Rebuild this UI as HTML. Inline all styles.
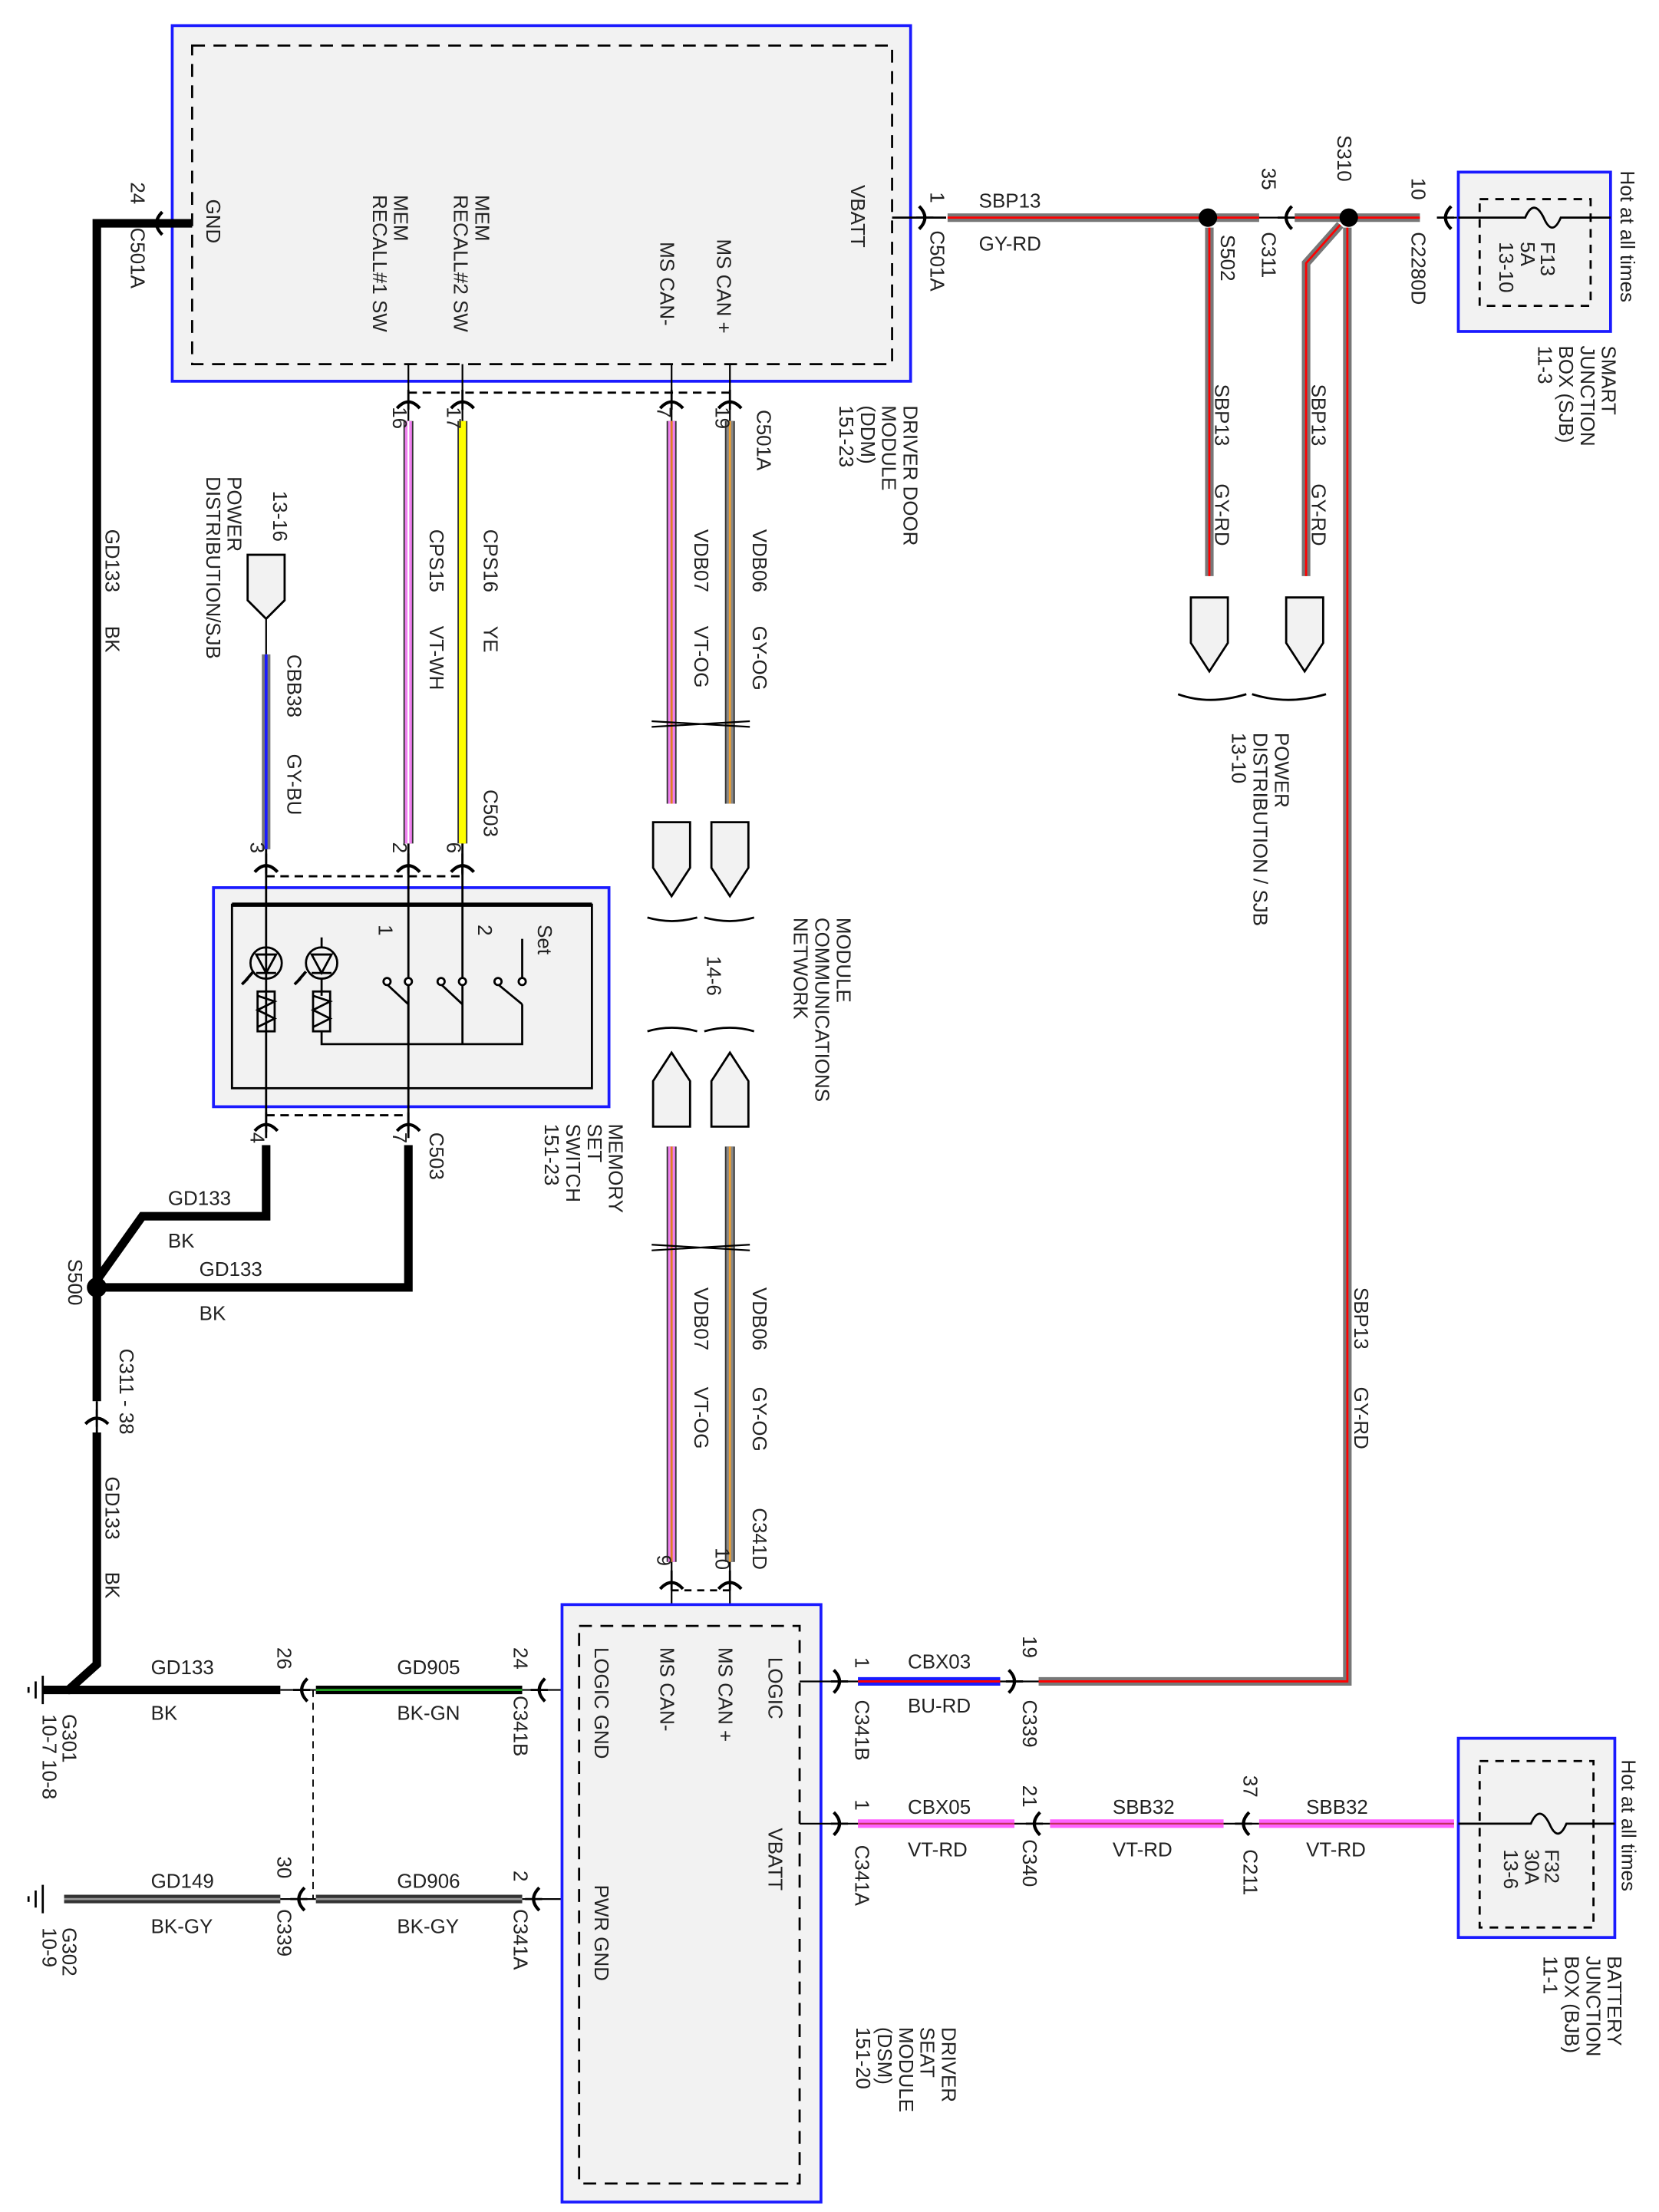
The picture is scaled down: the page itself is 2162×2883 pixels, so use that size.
<!DOCTYPE html>
<html><head><meta charset="utf-8"><style>
html,body{margin:0;padding:0;background:#fff}
svg{display:block}
text{font-family:"Liberation Sans",sans-serif;font-size:14px;fill:#222}
</style></head><body>
<svg width="2162" height="2883" viewBox="0 0 1166 1555" xmlns="http://www.w3.org/2000/svg">
<defs>
<g id="cl"><path d="M6,-8 Q-2,0 6,8" fill="none" stroke="#000" stroke-width="2.2"/><path d="M-4,0 L8,0" stroke="#000" stroke-width="1.5"/></g>
<g id="cr"><path d="M-6,-8 Q2,0 -6,8" fill="none" stroke="#000" stroke-width="2.2"/><path d="M4,0 L-8,0" stroke="#000" stroke-width="1.5"/></g>
<g id="cd"><path d="M-8,5 Q0,-4 8,5" fill="none" stroke="#000" stroke-width="2.2"/><path d="M0,-8 L0,6" stroke="#000" stroke-width="1.5"/></g>
<g id="cu"><path d="M-8,6 Q0,-2 8,6" fill="none" stroke="#000" stroke-width="2.2"/><path d="M0,8 L0,-4" stroke="#000" stroke-width="1.5"/></g>
<g id="plug"><path d="M-13,0 L13,0 L13,32 L0,52 L-13,32 Z" fill="#f2f2f2" stroke="#000" stroke-width="1.5"/></g>
<g id="plugu"><path d="M-13,0 L13,0 L13,-32 L0,-52 L-13,-32 Z" fill="#f2f2f2" stroke="#000" stroke-width="1.5"/></g>
</defs>

<!-- DDM box -->
<rect x="121" y="18" width="519" height="250" fill="#f2f2f2" stroke="#1a1aff" stroke-width="2"/>
<rect x="135" y="32" width="492" height="224" fill="none" stroke="#000" stroke-width="1.5" stroke-dasharray="9,6"/>
<text transform="translate(145,140) rotate(90)">GND</text>
<text transform="translate(277,137) rotate(90)">MEM</text>
<text transform="translate(262,137) rotate(90)">RECALL#1 SW</text>
<text transform="translate(334,137) rotate(90)">MEM</text>
<text transform="translate(319,137) rotate(90)">RECALL#2 SW</text>
<text transform="translate(504,168) rotate(90)">MS CAN +</text>
<text transform="translate(464,170) rotate(90)">MS CAN-</text>
<text transform="translate(598,130) rotate(90)">VBATT</text>
<text transform="translate(635,285) rotate(90)">DRIVER DOOR</text>
<text transform="translate(620,285) rotate(90)">MODULE</text>
<text transform="translate(605,285) rotate(90)">(DDM)</text>
<text transform="translate(590,285) rotate(90)">151-23</text>

<!-- GND from DDM -->
<path d="M135,157 L68,157 L68,1170 L48,1188 L30,1188" fill="none" stroke="#000" stroke-width="6"/>
<line x1="121" y1="157" x2="135" y2="157" stroke="#000" stroke-width="1.5"/>
<use href="#cl" x="108" y="157"/>
<text transform="translate(92,128) rotate(90)">24</text>
<text transform="translate(92,160) rotate(90)">C501A</text>
<text transform="translate(74,372) rotate(90)">GD133</text>
<text transform="translate(74,440) rotate(90)">BK</text>

<!-- VBATT right -->
<line x1="627" y1="153" x2="665" y2="153" stroke="#000" stroke-width="1.5"/>
<use href="#cr" x="652" y="153"/>
<text transform="translate(654,135) rotate(90)">1</text>
<text transform="translate(654,162) rotate(90)">C501A</text>
<g stroke-linecap="butt">
<line x1="666" y1="153" x2="845" y2="153" stroke="#777" stroke-width="6"/><line x1="666" y1="153" x2="845" y2="153" stroke="red" stroke-width="1.5"/>
<line x1="852" y1="153" x2="885" y2="153" stroke="#777" stroke-width="6"/><line x1="852" y1="153" x2="885" y2="153" stroke="red" stroke-width="1.5"/>
<line x1="910" y1="153" x2="945" y2="153" stroke="#777" stroke-width="6"/><line x1="910" y1="153" x2="945" y2="153" stroke="red" stroke-width="1.5"/>
<line x1="950" y1="153" x2="998" y2="153" stroke="#777" stroke-width="6"/><line x1="950" y1="153" x2="998" y2="153" stroke="red" stroke-width="1.5"/>
<line x1="885" y1="153" x2="910" y2="153" stroke="#000" stroke-width="1.2"/>
<line x1="850" y1="160" x2="850" y2="405" stroke="#777" stroke-width="6"/><line x1="850" y1="160" x2="850" y2="405" stroke="red" stroke-width="1.5"/>
<path d="M942,158 L918,185 L918,405" fill="none" stroke="#777" stroke-width="6"/><path d="M942,158 L918,185 L918,405" fill="none" stroke="red" stroke-width="1.5"/>
<path d="M947,160 L947,1182 L730,1182" fill="none" stroke="#777" stroke-width="6"/><path d="M947,160 L947,1182 L730,1182" fill="none" stroke="red" stroke-width="1.5"/>
</g>
<circle cx="849" cy="153" r="6.5" fill="#000"/>
<circle cx="948" cy="153" r="6.5" fill="#000"/>
<use href="#cl" x="902" y="153"/>
<use href="#cl" x="1014" y="153"/>
<line x1="1010" y1="153" x2="1025" y2="153" stroke="#000" stroke-width="1.2"/>
<text x="688" y="146">SBP13</text>
<text x="688" y="176">GY-RD</text>
<text transform="translate(858,165) rotate(90)">S502</text>
<text transform="translate(887,118) rotate(90)">35</text>
<text transform="translate(887,163) rotate(90)">C311</text>
<text transform="translate(940,95) rotate(90)">S310</text>
<text transform="translate(992,125) rotate(90)">10</text>
<text transform="translate(992,163) rotate(90)">C2280D</text>
<text transform="translate(854,270) rotate(90)">SBP13</text>
<text transform="translate(854,340) rotate(90)">GY-RD</text>
<text transform="translate(922,270) rotate(90)">SBP13</text>
<text transform="translate(922,340) rotate(90)">GY-RD</text>
<use href="#plug" x="850" y="420"/>
<use href="#plug" x="917" y="420"/>
<path d="M828,488 Q850,496 876,488 M880,488 Q905,496 932,488" fill="none" stroke="#000" stroke-width="1.5"/>
<text transform="translate(896,515) rotate(90)">POWER</text>
<text transform="translate(881,515) rotate(90)">DISTRIBUTION / SJB</text>
<text transform="translate(866,515) rotate(90)">13-10</text>
<text transform="translate(952,905) rotate(90)">SBP13</text>
<text transform="translate(952,975) rotate(90)">GY-RD</text>

<!-- SJB fuse box -->
<rect x="1025" y="121" width="107" height="112" fill="#f2f2f2" stroke="#1a1aff" stroke-width="2"/>
<rect x="1040" y="140" width="78" height="75" fill="none" stroke="#000" stroke-width="1.5" stroke-dasharray="6,5"/>
<path d="M1025,153 L1072,153 Q1078,139 1085,153 Q1091,167 1097,153 L1132,153" fill="none" stroke="#000" stroke-width="1.5"/>
<text transform="translate(1083,170) rotate(90)">F13</text>
<text transform="translate(1069,170) rotate(90)">5A</text>
<text transform="translate(1054,170) rotate(90)">13-10</text>
<text transform="translate(1139,120) rotate(90)">Hot at all times</text>
<text transform="translate(1126,243) rotate(90)">SMART</text>
<text transform="translate(1111,243) rotate(90)">JUNCTION</text>
<text transform="translate(1096,243) rotate(90)">BOX (SJB)</text>
<text transform="translate(1081,243) rotate(90)">11-3</text>

<!-- DDM lower wires -->
<line x1="287" y1="256" x2="287" y2="296" stroke="#000" stroke-width="1.2"/>
<line x1="325" y1="256" x2="325" y2="296" stroke="#000" stroke-width="1.2"/>
<line x1="472" y1="256" x2="472" y2="296" stroke="#000" stroke-width="1.2"/>
<line x1="513" y1="256" x2="513" y2="296" stroke="#000" stroke-width="1.2"/>
<line x1="287" y1="276" x2="513" y2="276" stroke="#000" stroke-width="1.5" stroke-dasharray="6,4"/>
<use href="#cd" x="287" y="282"/><use href="#cd" x="325" y="282"/><use href="#cd" x="472" y="282"/><use href="#cd" x="513" y="282"/>
<line x1="287" y1="296" x2="287" y2="593" stroke="#333" stroke-width="7"/><line x1="287" y1="296" x2="287" y2="593" stroke="#f080f0" stroke-width="5"/><line x1="287" y1="296" x2="287" y2="593" stroke="#fff" stroke-width="1.2"/>
<line x1="325" y1="296" x2="325" y2="593" stroke="#333" stroke-width="7"/><line x1="325" y1="296" x2="325" y2="593" stroke="#ffff00" stroke-width="5"/>
<line x1="472" y1="296" x2="472" y2="565" stroke="#333" stroke-width="7"/><line x1="472" y1="296" x2="472" y2="565" stroke="#f080f0" stroke-width="5"/><line x1="472" y1="296" x2="472" y2="565" stroke="#e08020" stroke-width="1.5"/>
<line x1="513" y1="296" x2="513" y2="565" stroke="#333" stroke-width="7"/><line x1="513" y1="296" x2="513" y2="565" stroke="#888" stroke-width="5"/><line x1="513" y1="296" x2="513" y2="565" stroke="#f0a030" stroke-width="1.5"/>
<text transform="translate(276,286) rotate(90)">16</text>
<text transform="translate(314,286) rotate(90)">17</text>
<text transform="translate(462,286) rotate(90)">7</text>
<text transform="translate(503,286) rotate(90)">19</text>
<text transform="translate(532,288) rotate(90)">C501A</text>
<text transform="translate(302,372) rotate(90)">CPS15</text>
<text transform="translate(302,440) rotate(90)">VT-WH</text>
<text transform="translate(340,372) rotate(90)">CPS16</text>
<text transform="translate(340,440) rotate(90)">YE</text>
<text transform="translate(488,372) rotate(90)">VDB07</text>
<text transform="translate(488,440) rotate(90)">VT-OG</text>
<text transform="translate(529,372) rotate(90)">VDB06</text>
<text transform="translate(529,440) rotate(90)">GY-OG</text>
<path d="M458,507 L527,511 M458,511 L527,507" stroke="#000" stroke-width="1.2"/>
<text transform="translate(340,555) rotate(90)">C503</text>
<use href="#plug" x="472" y="578"/><use href="#plug" x="513" y="578"/>
<path d="M455,645 Q472,650 490,645 M495,645 Q513,650 530,645" fill="none" stroke="#000" stroke-width="1.5"/>
<text transform="translate(588,645) rotate(90)">MODULE</text>
<text transform="translate(573,645) rotate(90)">COMMUNICATIONS</text>
<text transform="translate(558,645) rotate(90)">NETWORK</text>
<text transform="translate(497,672) rotate(90)">14-6</text>
<path d="M455,725 Q472,720 490,725 M495,725 Q513,720 530,725" fill="none" stroke="#000" stroke-width="1.5"/>
<use href="#plugu" x="472" y="792"/><use href="#plugu" x="513" y="792"/>
<line x1="472" y1="806" x2="472" y2="1098" stroke="#333" stroke-width="7"/><line x1="472" y1="806" x2="472" y2="1098" stroke="#f080f0" stroke-width="5"/><line x1="472" y1="806" x2="472" y2="1098" stroke="#e08020" stroke-width="1.5"/>
<line x1="513" y1="806" x2="513" y2="1098" stroke="#333" stroke-width="7"/><line x1="513" y1="806" x2="513" y2="1098" stroke="#888" stroke-width="5"/><line x1="513" y1="806" x2="513" y2="1098" stroke="#f0a030" stroke-width="1.5"/>
<path d="M458,875 L527,879 M458,879 L527,875" stroke="#000" stroke-width="1.2"/>
<text transform="translate(488,905) rotate(90)">VDB07</text>
<text transform="translate(488,975) rotate(90)">VT-OG</text>
<text transform="translate(529,905) rotate(90)">VDB06</text>
<text transform="translate(529,975) rotate(90)">GY-OG</text>
<text transform="translate(529,1060) rotate(90)">C341D</text>
<text transform="translate(462,1093) rotate(90)">9</text>
<text transform="translate(503,1088) rotate(90)">10</text>
<line x1="472" y1="1098" x2="472" y2="1143" stroke="#000" stroke-width="1.2"/>
<line x1="513" y1="1098" x2="513" y2="1143" stroke="#000" stroke-width="1.2"/>
<use href="#cd" x="472" y="1112"/><use href="#cd" x="513" y="1112"/>
<line x1="472" y1="1118" x2="513" y2="1118" stroke="#000" stroke-width="1.5" stroke-dasharray="5,4"/>

<!-- CBB38 -->
<path d="M174,390 L200,390 L200,422 L187,435 L174,422 Z" fill="#f2f2f2" stroke="#000" stroke-width="1.5"/>
<text transform="translate(192,345) rotate(90)">13-16</text>
<text transform="translate(160,335) rotate(90)">POWER</text>
<text transform="translate(145,335) rotate(90)">DISTRIBUTION/SJB</text>
<line x1="187" y1="435" x2="187" y2="460" stroke="#000" stroke-width="1.2"/>
<line x1="187" y1="460" x2="187" y2="597" stroke="#777" stroke-width="6"/><line x1="187" y1="460" x2="187" y2="597" stroke="#1a1aff" stroke-width="2"/>
<text transform="translate(202,460) rotate(90)">CBB38</text>
<text transform="translate(202,530) rotate(90)">GY-BU</text>
<text transform="translate(176,592) rotate(90)">3</text>
<text transform="translate(276,592) rotate(90)">2</text>
<text transform="translate(314,592) rotate(90)">6</text>
<line x1="187" y1="597" x2="187" y2="615" stroke="#000" stroke-width="1.5"/>
<line x1="287" y1="593" x2="287" y2="615" stroke="#000" stroke-width="1.5"/>
<line x1="325" y1="593" x2="325" y2="615" stroke="#000" stroke-width="1.5"/>
<use href="#cd" x="187" y="608"/><use href="#cd" x="287" y="608"/><use href="#cd" x="325" y="608"/>
<line x1="187" y1="616" x2="325" y2="616" stroke="#000" stroke-width="1.5" stroke-dasharray="6,4"/>

<!-- memory switch -->
<rect x="150" y="624" width="278" height="154" fill="#f2f2f2" stroke="#1a1aff" stroke-width="2"/>
<rect x="163" y="636" width="253" height="129" fill="none" stroke="#000" stroke-width="1.5"/>
<line x1="163" y1="636" x2="416" y2="636" stroke="#000" stroke-width="3"/>
<line x1="187" y1="608" x2="187" y2="800" stroke="#000" stroke-width="1.5"/>
<line x1="287" y1="608" x2="287" y2="800" stroke="#000" stroke-width="1.5"/>
<line x1="325" y1="608" x2="325" y2="690" stroke="#000" stroke-width="1.5"/>
<g fill="none" stroke="#000" stroke-width="1.5">
<circle cx="187" cy="677" r="11"/><path d="M180,671 L194,671 L187,684 Z M180,684 L194,684"/>
<circle cx="226" cy="677" r="11"/><path d="M219,671 L233,671 L226,684 Z M219,684 L233,684 M226,666 L226,659 M226,688 L226,700"/>
<path d="M178,683 L172,690 M174,688 L170,692 M215,683 L209,690 M211,688 L207,692" stroke-width="2"/>
<rect x="181" y="697" width="12" height="28"/><path d="M181,700 L193,704 L181,710 L193,716 L181,722"/>
<rect x="220" y="697" width="12" height="28"/><path d="M220,700 L232,704 L220,710 L232,716 L220,722"/>
<path d="M226,725 L226,734 L367,734 L367,706"/>
<path d="M287,690 L287,734 M325,690 L325,734"/>
<path d="M272,692 L287,706 M310,692 L325,706 M350,692 L367,706"/>
<path d="M367,660 L367,690"/>
</g>
<g fill="#fff" stroke="#000" stroke-width="1.5"><circle cx="272" cy="690" r="2.5"/><circle cx="287" cy="690" r="2.5"/><circle cx="310" cy="690" r="2.5"/><circle cx="325" cy="690" r="2.5"/><circle cx="350" cy="690" r="2.5"/><circle cx="367" cy="690" r="2.5"/></g>
<text transform="translate(266,650) rotate(90)">1</text>
<text transform="translate(336,650) rotate(90)">2</text>
<text transform="translate(378,650) rotate(90)">Set</text>
<text transform="translate(428,790) rotate(90)">MEMORY</text>
<text transform="translate(413,790) rotate(90)">SET</text>
<text transform="translate(398,790) rotate(90)">SWITCH</text>
<text transform="translate(383,790) rotate(90)">151-23</text>
<use href="#cd" x="187" y="790"/><use href="#cd" x="287" y="790"/>
<line x1="187" y1="784" x2="287" y2="784" stroke="#000" stroke-width="1.5" stroke-dasharray="6,4"/>
<text transform="translate(176,796) rotate(90)">4</text>
<text transform="translate(276,796) rotate(90)">7</text>
<text transform="translate(302,796) rotate(90)">C503</text>
<path d="M187,805 L187,855 L100,855 L68,900" fill="none" stroke="#000" stroke-width="6"/>
<path d="M287,805 L287,905 L68,905" fill="none" stroke="#000" stroke-width="6"/>
<circle cx="68" cy="905" r="7" fill="#000"/>
<text x="118" y="847">GD133</text><text x="118" y="877">BK</text>
<text x="140" y="897">GD133</text><text x="140" y="928">BK</text>
<text transform="translate(48,885) rotate(90)">S500</text>
<rect x="60" y="985" width="16" height="22" fill="#fff"/>
<line x1="68" y1="985" x2="68" y2="1007" stroke="#000" stroke-width="1.5"/>
<use href="#cu" x="68" y="995"/>
<text transform="translate(84,948) rotate(90)">C311 - 38</text>
<text transform="translate(74,1038) rotate(90)">GD133</text>
<text transform="translate(74,1105) rotate(90)">BK</text>

<!-- ground symbols -->
<g stroke="#000" stroke-width="1.5"><line x1="30" y1="1178" x2="30" y2="1198"/><line x1="25" y1="1182" x2="25" y2="1194"/><line x1="20" y1="1186" x2="20" y2="1190"/>
<line x1="30" y1="1325" x2="30" y2="1345"/><line x1="25" y1="1329" x2="25" y2="1341"/><line x1="20" y1="1333" x2="20" y2="1337"/></g>
<text transform="translate(44,1205) rotate(90)">G301</text>
<text transform="translate(30,1205) rotate(90)">10-7  10-8</text>
<text transform="translate(44,1355) rotate(90)">G302</text>
<text transform="translate(30,1355) rotate(90)">10-9</text>

<!-- DSM left wires -->
<line x1="48" y1="1188" x2="197" y2="1188" stroke="#000" stroke-width="6"/>
<line x1="197" y1="1188" x2="222" y2="1188" stroke="#000" stroke-width="1.2"/>
<use href="#cl" x="210" y="1188"/>
<line x1="222" y1="1188" x2="367" y2="1188" stroke="#000" stroke-width="6"/><line x1="222" y1="1188" x2="367" y2="1188" stroke="#20a020" stroke-width="1.5"/>
<line x1="367" y1="1188" x2="407" y2="1188" stroke="#000" stroke-width="1.2"/>
<use href="#cl" x="377" y="1188"/>
<line x1="45" y1="1335" x2="197" y2="1335" stroke="#333" stroke-width="6"/><line x1="45" y1="1335" x2="197" y2="1335" stroke="#999" stroke-width="1.5"/>
<line x1="197" y1="1335" x2="222" y2="1335" stroke="#000" stroke-width="1.2"/>
<use href="#cl" x="208" y="1335"/>
<line x1="222" y1="1335" x2="367" y2="1335" stroke="#333" stroke-width="6"/><line x1="222" y1="1335" x2="367" y2="1335" stroke="#999" stroke-width="1.5"/>
<line x1="367" y1="1335" x2="407" y2="1335" stroke="#000" stroke-width="1.2"/>
<use href="#cl" x="373" y="1335"/>
<line x1="220" y1="1188" x2="220" y2="1335" stroke="#000" stroke-width="1" stroke-dasharray="5,4"/>
<text x="106" y="1177">GD133</text><text x="106" y="1209">BK</text>
<text x="279" y="1177">GD905</text><text x="279" y="1209">BK-GN</text>
<text x="106" y="1327">GD149</text><text x="106" y="1359">BK-GY</text>
<text x="279" y="1327">GD906</text><text x="279" y="1359">BK-GY</text>
<text transform="translate(195,1158) rotate(90)">26</text>
<text transform="translate(361,1158) rotate(90)">24</text>
<text transform="translate(361,1192) rotate(90)">C341B</text>
<text transform="translate(195,1305) rotate(90)">30</text>
<text transform="translate(195,1342) rotate(90)">C339</text>
<text transform="translate(361,1315) rotate(90)">2</text>
<text transform="translate(361,1342) rotate(90)">C341A</text>

<!-- DSM box -->
<rect x="395" y="1128" width="182" height="420" fill="#f2f2f2" stroke="#1a1aff" stroke-width="2"/>
<rect x="407" y="1143" width="155" height="392" fill="none" stroke="#000" stroke-width="1.5" stroke-dasharray="9,6"/>
<text transform="translate(418,1158) rotate(90)">LOGIC GND</text>
<text transform="translate(418,1325) rotate(90)">PWR GND</text>
<text transform="translate(464,1158) rotate(90)">MS CAN-</text>
<text transform="translate(505,1158) rotate(90)">MS CAN +</text>
<text transform="translate(540,1165) rotate(90)">LOGIC</text>
<text transform="translate(540,1285) rotate(90)">VBATT</text>
<text transform="translate(662,1425) rotate(90)">DRIVER</text>
<text transform="translate(647,1425) rotate(90)">SEAT</text>
<text transform="translate(632,1425) rotate(90)">MODULE</text>
<text transform="translate(617,1425) rotate(90)">(DSM)</text>
<text transform="translate(602,1425) rotate(90)">151-20</text>

<!-- DSM right -->
<line x1="562" y1="1182" x2="603" y2="1182" stroke="#000" stroke-width="1.2"/>
<use href="#cr" x="592" y="1182"/>
<line x1="603" y1="1182" x2="703" y2="1182" stroke="#1a1aff" stroke-width="6"/><line x1="603" y1="1182" x2="703" y2="1182" stroke="red" stroke-width="1.5"/>
<line x1="703" y1="1182" x2="730" y2="1182" stroke="#000" stroke-width="1.2"/>
<use href="#cr" x="715" y="1182"/>
<line x1="562" y1="1282" x2="603" y2="1282" stroke="#000" stroke-width="1.2"/>
<use href="#cr" x="592" y="1282"/>
<line x1="603" y1="1282" x2="713" y2="1282" stroke="#ff60ff" stroke-width="6"/><line x1="603" y1="1282" x2="713" y2="1282" stroke="#c03060" stroke-width="1.2"/>
<line x1="713" y1="1282" x2="738" y2="1282" stroke="#000" stroke-width="1.2"/>
<use href="#cl" x="725" y="1282"/>
<line x1="738" y1="1282" x2="860" y2="1282" stroke="#ff60ff" stroke-width="6"/><line x1="738" y1="1282" x2="860" y2="1282" stroke="#c03060" stroke-width="1.2"/>
<line x1="860" y1="1282" x2="885" y2="1282" stroke="#000" stroke-width="1.2"/>
<use href="#cl" x="872" y="1282"/>
<line x1="885" y1="1282" x2="1022" y2="1282" stroke="#ff60ff" stroke-width="6"/><line x1="885" y1="1282" x2="1022" y2="1282" stroke="#c03060" stroke-width="1.2"/>
<text x="638" y="1173">CBX03</text><text x="638" y="1204">BU-RD</text>
<text x="638" y="1275">CBX05</text><text x="638" y="1305">VT-RD</text>
<text x="782" y="1275">SBB32</text><text x="782" y="1305">VT-RD</text>
<text x="918" y="1275">SBB32</text><text x="918" y="1305">VT-RD</text>
<text transform="translate(601,1165) rotate(90)">1</text>
<text transform="translate(601,1195) rotate(90)">C341B</text>
<text transform="translate(719,1150) rotate(90)">19</text>
<text transform="translate(719,1195) rotate(90)">C339</text>
<text transform="translate(601,1265) rotate(90)">1</text>
<text transform="translate(601,1297) rotate(90)">C341A</text>
<text transform="translate(719,1255) rotate(90)">21</text>
<text transform="translate(719,1293) rotate(90)">C340</text>
<text transform="translate(874,1248) rotate(90)">37</text>
<text transform="translate(874,1300) rotate(90)">C211</text>

<!-- BJB -->
<rect x="1025" y="1222" width="110" height="140" fill="#f2f2f2" stroke="#1a1aff" stroke-width="2"/>
<rect x="1040" y="1238" width="80" height="117" fill="none" stroke="#000" stroke-width="1.5" stroke-dasharray="6,5"/>
<path d="M1025,1282 L1076,1282 Q1082,1268 1089,1282 Q1095,1296 1101,1282 L1135,1282" fill="none" stroke="#000" stroke-width="1.5"/>
<text transform="translate(1086,1300) rotate(90)">F32</text>
<text transform="translate(1072,1300) rotate(90)">30A</text>
<text transform="translate(1057,1300) rotate(90)">13-6</text>
<text transform="translate(1140,1237) rotate(90)">Hot at all times</text>
<text transform="translate(1130,1375) rotate(90)">BATTERY</text>
<text transform="translate(1115,1375) rotate(90)">JUNCTION</text>
<text transform="translate(1100,1375) rotate(90)">BOX (BJB)</text>
<text transform="translate(1085,1375) rotate(90)">11-1</text>
</svg>
</body></html>
